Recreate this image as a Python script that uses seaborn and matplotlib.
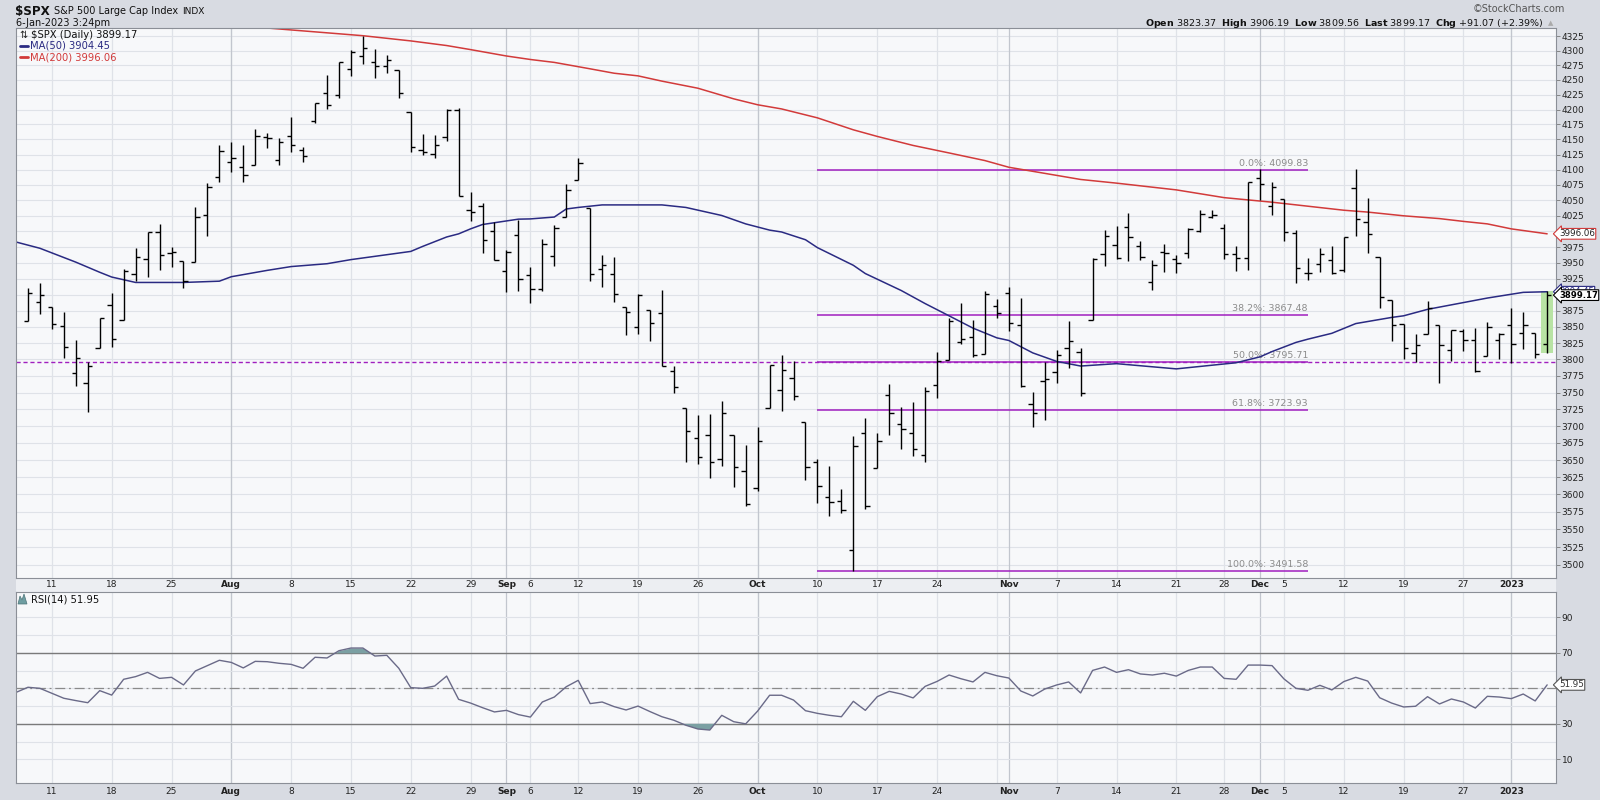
import numpy as np
import pandas as pd
import matplotlib
matplotlib.use("Agg")
import matplotlib.pyplot as plt
import matplotlib.transforms as mtransforms
from matplotlib.lines import Line2D
from matplotlib.patches import Polygon, Rectangle
from matplotlib.ticker import FixedLocator, FixedFormatter, NullLocator, NullFormatter
import seaborn as sns

sns.set_style("white")
plt.rcParams["font.family"] = ["DejaVu Sans"]

# trading sessions; the first one (6 Jul) only anchors the indicator lines at the left edge
holidays = ["2022-09-05", "2022-11-24", "2022-12-26", "2023-01-02"]
sessions = pd.bdate_range("2022-07-06", "2023-01-06", freq="C", holidays=holidays)

# daily OHLC, 7 Jul 2022 .. 6 Jan 2023
opens = [
    3858.85, 3888.26, 3880.94, 3851.95, 3779.67, 3763.99, 3818.00, 3883.79, 3860.73, 3933.06, 3955.47, 3998.43, 3965.72, 3953.22, 3951.43, 4026.13, 4087.33,
    4112.38, 4104.21, 4107.96, 4154.85, 4115.87, 4155.93, 4133.11, 4181.02, 4227.40, 4225.02, 4269.37, 4290.46, 4280.40, 4273.13, 4266.31, 4195.08, 4133.09, 4126.55, 4153.26, 4198.74, 4034.58, 4041.25, 4000.67,
    3936.73, 3994.66, 3930.89, 3909.43, 3959.94, 4022.94, 4083.67, 4037.12, 3940.73, 3932.41, 3880.95, 3849.91, 3875.23, 3871.40, 3782.36, 3727.14, 3682.72, 3686.44, 3651.94, 3687.01, 3633.48,
    3609.78, 3726.46, 3753.25, 3771.97, 3706.74, 3647.51, 3595.86, 3590.83, 3520.37, 3690.41, 3638.65, 3746.26, 3703.11, 3689.05, 3657.10, 3762.01, 3799.44, 3825.97, 3834.69, 3808.26, 3881.85,
    3901.79, 3852.90, 3733.25, 3766.98, 3780.71, 3817.02, 3810.94, 3859.89, 3963.72, 3977.97, 4006.41, 3976.82, 3919.26, 3966.39, 3956.23, 3965.51, 4000.30, 4023.34, 4005.36, 3964.19, 3957.18,
    4087.14, 4040.17, 4052.02, 3996.63, 3933.28, 3947.79, 3954.17, 3939.29, 4069.38, 4015.54, 3958.37, 3890.91, 3853.79, 3810.47, 3839.49, 3853.26, 3815.11, 3843.34, 3829.56, 3805.45, 3829.06,
    3853.29, 3840.36, 3839.74, 3823.37,
]
highs = [
    3910.63, 3918.50, 3880.94, 3873.41, 3829.44, 3796.41, 3863.62, 3902.44, 3939.81, 3974.13, 3999.29, 4012.44, 3975.30, 3953.22, 4039.56, 4078.95, 4140.15,
    4144.95, 4140.47, 4167.66, 4161.29, 4151.58, 4186.62, 4137.30, 4211.03, 4257.91, 4280.47, 4301.79, 4325.28, 4302.18, 4292.53, 4266.31, 4195.08, 4159.77, 4156.56, 4200.54, 4203.04, 4062.99, 4044.98, 4015.37,
    3970.23, 4018.43, 3942.55, 3987.89, 4010.50, 4076.81, 4119.28, 4037.12, 3961.94, 3959.14, 3880.95, 3900.45, 3876.01, 3907.07, 3790.78, 3727.14, 3715.67, 3717.53, 3736.74, 3687.01, 3671.44,
    3698.35, 3791.92, 3806.91, 3797.93, 3706.74, 3652.17, 3640.66, 3608.34, 3685.41, 3712.00, 3689.73, 3762.79, 3728.58, 3736.00, 3757.89, 3810.74, 3862.85, 3886.15, 3859.95, 3905.42, 3893.73,
    3911.79, 3894.44, 3750.59, 3796.34, 3813.95, 3859.40, 3818.20, 3958.33, 4001.48, 4008.97, 4028.84, 3983.96, 3954.33, 3979.89, 3962.00, 4005.88, 4033.78, 4034.02, 4012.27, 3976.77, 4080.11,
    4100.51, 4080.48, 4052.45, 4001.51, 3957.57, 3974.19, 3977.02, 3990.71, 4100.96, 4053.76, 3958.37, 3890.91, 3854.86, 3838.24, 3889.82, 3853.26, 3845.80, 3846.65, 3848.32, 3858.19, 3839.85,
    3878.46, 3873.16, 3839.74, 3906.19,
]
lows = [
    3858.85, 3869.34, 3847.22, 3802.36, 3759.07, 3721.56, 3817.18, 3818.63, 3860.73, 3922.03, 3927.64, 3938.24, 3943.46, 3910.74, 3951.43, 3992.97, 4079.22,
    4096.02, 4079.81, 4107.96, 4135.42, 4107.31, 4128.97, 4112.09, 4177.26, 4201.41, 4219.78, 4256.90, 4277.77, 4253.08, 4261.98, 4218.70, 4129.86, 4124.03, 4119.97, 4147.59, 4057.66, 4017.42, 3965.21, 3954.53,
    3903.65, 3906.21, 3886.75, 3906.03, 3944.81, 4022.94, 4083.67, 3921.49, 3912.15, 3888.28, 3837.08, 3838.50, 3827.54, 3789.49, 3749.45, 3647.47, 3644.76, 3623.29, 3640.61, 3610.40, 3584.13,
    3604.93, 3726.46, 3722.66, 3739.22, 3620.73, 3588.10, 3568.45, 3573.86, 3491.58, 3579.68, 3638.65, 3686.53, 3666.51, 3656.44, 3647.42, 3741.65, 3799.44, 3824.07, 3803.79, 3808.26, 3863.18,
    3843.80, 3758.68, 3698.15, 3708.84, 3764.70, 3786.28, 3744.22, 3859.89, 3944.82, 3956.40, 3953.17, 3954.34, 3906.54, 3935.98, 3933.34, 3956.88, 3998.66, 4020.76, 3955.77, 3937.65, 3938.58,
    4050.87, 4026.63, 3984.49, 3918.39, 3922.68, 3935.83, 3933.04, 3935.30, 3993.03, 3965.65, 3879.45, 3827.91, 3800.04, 3795.62, 3839.49, 3764.49, 3797.01, 3813.22, 3780.78, 3805.45, 3800.34,
    3794.33, 3815.77, 3802.42, 3809.56,
]
closes = [
    3902.62, 3899.38, 3854.43, 3818.80, 3801.78, 3790.38, 3863.16, 3830.85, 3936.69, 3959.90, 3998.95, 3961.63, 3966.84, 3921.05, 4023.61, 4072.43, 4130.29,
    4118.63, 4091.19, 4155.17, 4151.94, 4145.19, 4140.06, 4122.47, 4210.24, 4207.27, 4280.15, 4297.14, 4305.20, 4274.04, 4283.74, 4228.48, 4137.99, 4128.73, 4140.77, 4199.12, 4057.66, 4030.61, 3986.16, 3955.00,
    3966.85, 3924.26, 3908.19, 3979.87, 4006.18, 4067.36, 4110.41, 3932.69, 3946.01, 3901.35, 3873.33, 3899.89, 3855.93, 3789.93, 3757.99, 3693.23, 3655.04, 3647.29, 3719.04, 3640.47, 3585.62,
    3678.43, 3790.93, 3783.28, 3744.52, 3639.66, 3612.39, 3588.84, 3577.03, 3669.91, 3583.07, 3677.95, 3719.98, 3695.16, 3665.78, 3752.75, 3797.34, 3859.11, 3830.60, 3807.30, 3901.06, 3871.98,
    3856.10, 3759.69, 3719.89, 3770.55, 3806.80, 3828.11, 3748.57, 3956.37, 3992.93, 3957.25, 3991.73, 3958.79, 3946.56, 3965.34, 3949.94, 4003.58, 4027.26, 4026.12, 3963.94, 3957.63, 4080.11,
    4076.57, 4071.70, 3998.84, 3941.26, 3933.92, 3963.51, 3934.38, 3990.56, 4019.65, 3995.32, 3895.75, 3852.36, 3817.66, 3821.62, 3878.44, 3822.39, 3844.82, 3829.25, 3783.22, 3849.28, 3839.50,
    3824.14, 3852.97, 3808.10, 3899.17,
]

# RSI(14), 6 Jul 2022 .. 6 Jan 2023
rsi = [
    47.7,
    50.6, 50.0, 47.2, 44.4, 43.1, 41.9, 48.7, 46.2, 55.1, 56.6, 59.0, 55.6, 56.2, 51.9, 59.8, 62.8, 65.8,
    64.6, 61.5, 65.2, 65.0, 64.1, 63.5, 61.3, 67.5, 67.1, 71.2, 72.7, 72.7, 68.2, 68.6, 61.3, 50.4, 50.0, 51.3, 56.9, 43.8, 41.7, 39.1, 36.7,
    37.6, 35.2, 33.8, 42.3, 45.1, 50.9, 54.5, 41.4, 42.3, 39.7, 37.8, 40.0, 36.9, 34.0, 32.0, 29.2, 27.1, 26.5, 34.8, 31.2, 30.0,
    37.2, 46.1, 46.1, 43.4, 37.4, 35.9, 34.8, 34.0, 42.7, 37.6, 45.3, 48.3, 46.8, 44.6, 51.1, 53.9, 57.5, 55.4, 53.6, 59.0, 57.1,
    55.8, 48.5, 45.7, 49.6, 51.9, 53.6, 47.4, 60.1, 62.0, 59.0, 60.5, 58.1, 57.5, 58.5, 56.9, 60.1, 62.0, 62.0, 55.6, 55.1, 63.1,
    63.1, 62.8, 55.3, 50.0, 48.9, 51.7, 49.1, 53.8, 56.2, 54.1, 44.7, 41.7, 39.5, 39.9, 45.3, 41.2, 44.0, 42.3, 38.9, 45.5, 45.1,
    44.2, 46.8, 42.9, 51.95,
]

# moving averages
ma50_dates = ["2022-07-06", "2022-07-08", "2022-07-13", "2022-07-15", "2022-07-18", "2022-07-20", "2022-07-26", "2022-07-29",
              "2022-08-01", "2022-08-04", "2022-08-08", "2022-08-11", "2022-08-15", "2022-08-22", "2022-08-23", "2022-08-25",
              "2022-08-26", "2022-08-29", "2022-08-30", "2022-09-02", "2022-09-06", "2022-09-08", "2022-09-09", "2022-09-12",
              "2022-09-14", "2022-09-21", "2022-09-23", "2022-09-28", "2022-09-30", "2022-10-04", "2022-10-05", "2022-10-07",
              "2022-10-10", "2022-10-13", "2022-10-14", "2022-10-19", "2022-10-21", "2022-10-25", "2022-10-27", "2022-10-31",
              "2022-11-01", "2022-11-03", "2022-11-07", "2022-11-09", "2022-11-14", "2022-11-21", "2022-11-29", "2022-12-01",
              "2022-12-02", "2022-12-06", "2022-12-07", "2022-12-09", "2022-12-13", "2022-12-16", "2022-12-19", "2022-12-21",
              "2022-12-29", "2023-01-04", "2023-01-06"]
ma50_vals = [3983, 3973, 3951, 3935, 3927.5, 3919, 3919, 3921,
             3928, 3938, 3944, 3948.5, 3955, 3968, 3976, 3991,
             3996, 4004, 4011, 4019.6, 4020, 4023, 4036, 4038.5,
             4042.6, 4042.6, 4038.5, 4025.5, 4012, 4002, 3999, 3986.6,
             3974, 3946, 3933, 3906.4, 3886, 3867, 3848, 3833,
             3829, 3810, 3797, 3790, 3793.6, 3785.7, 3795, 3804,
             3812, 3826, 3831, 3840, 3855, 3864.5, 3867, 3877,
             3894.6, 3903.5, 3904.45]
ma200_dates = ["2022-08-03", "2022-08-08", "2022-08-11", "2022-08-16", "2022-08-22", "2022-08-25", "2022-08-29", "2022-09-01",
               "2022-09-06", "2022-09-08", "2022-09-13", "2022-09-15", "2022-09-19", "2022-09-21", "2022-09-26", "2022-09-29",
               "2022-10-03", "2022-10-05", "2022-10-10", "2022-10-13", "2022-10-17", "2022-10-20", "2022-10-25", "2022-10-28",
               "2022-11-01", "2022-11-04", "2022-11-09", "2022-11-14", "2022-11-21", "2022-11-28", "2022-12-02", "2022-12-07",
               "2022-12-12", "2022-12-14", "2022-12-19", "2022-12-22", "2022-12-27", "2022-12-29", "2023-01-03", "2023-01-06"]
ma200_vals = [4341, 4336, 4331, 4326, 4317, 4309, 4302, 4291,
              4285, 4280, 4269, 4261.5, 4257, 4248, 4236, 4218,
              4208, 4201, 4186, 4166, 4155, 4140, 4127.6, 4115,
              4104, 4094, 4084, 4078, 4067, 4054.4, 4047, 4040.5,
              4034, 4031, 4025, 4020.5, 4016, 4012, 4004, 3996.06]

# Fibonacci retracement
fib_pct = ["0.0", "38.2", "50.0", "61.8", "100.0"]
fib_vals = [4099.83, 3867.48, 3795.71, 3723.93, 3491.58]
fib_from, fib_to = "2022-10-10", "2022-12-07"
support = 3795.71

tick_dates = ["2022-07-11", "2022-07-18", "2022-07-25", "2022-08-01", "2022-08-08", "2022-08-15", "2022-08-22",
              "2022-08-29", "2022-09-01", "2022-09-06", "2022-09-12", "2022-09-19", "2022-09-26", "2022-10-03",
              "2022-10-10", "2022-10-17", "2022-10-24", "2022-11-01", "2022-11-07", "2022-11-14", "2022-11-21",
              "2022-11-28", "2022-12-01", "2022-12-05", "2022-12-12", "2022-12-19", "2022-12-27", "2023-01-03"]
tick_labels = ["11", "18", "25", "Aug", "8", "15", "22", "29", "Sep", "6", "12", "19", "26", "Oct",
               "10", "17", "24", "Nov", "7", "14", "21", "28", "Dec", "5", "12", "19", "27", "2023"]

price_ticks = list(range(3500, 4326, 25))
rsi_ticks = [10, 30, 50, 70, 90]

# ---------------------------------------------------------------------------
W, H = 1600, 800
def fx(px):
    return px / W
def fy(py):
    return 1 - py / H

pos_of = {d: i for i, d in enumerate(sessions)}
def P(dates):
    return np.array([pos_of[pd.Timestamp(d)] for d in dates])

bars = pd.DataFrame({"pos": np.arange(1, len(sessions)), "open": opens, "high": highs,
                     "low": lows, "close": closes})
rpos = np.arange(len(sessions))
rsi_arr = np.array(rsi)

s = pd.Series(sessions)
wk = s.dt.to_period("W")
week_start = (wk != wk.shift()).to_numpy()
month_start = (s.dt.month != s.dt.month.shift()).to_numpy()
week_start[0] = month_start[0] = False

BG = "#d8dbe2"
PANEL = "#f7f8fa"
GRID = "#dfe2e8"
MGRID = "#c2c6ce"
NAVY = "#2a2a82"
RED = "#d23a3a"
FIB = "#a01fbf"
XLIM = (0.41, 128.74)

fig = plt.figure(figsize=(16, 8), dpi=100, facecolor=BG)
# light strip that carries the dates between the two panels
fig.add_artist(Rectangle((fx(16), fy(592.3)), fx(1540), 14.6 / H, transform=fig.transFigure,
                         fc="#eceef2", ec="none", zorder=0))
ax = fig.add_axes([fx(16), fy(577.7), fx(1540), 549.2 / H], facecolor=PANEL)
axr = fig.add_axes([fx(16), fy(783.3), fx(1540), 191.0 / H], facecolor=PANEL)

# ---- price panel
ax.set_yscale("log")
for t in price_ticks:
    ax.axhline(t, color=GRID, lw=0.8, zorder=0)
for a in (ax, axr):
    for p in np.where(week_start)[0]:
        a.axvline(p, color=GRID, lw=0.9, zorder=0)
    for p in np.where(month_start)[0]:
        a.axvline(p, color=MGRID, lw=0.9, zorder=0)

last = bars.iloc[-1]
ax.fill_between([last["pos"] - 0.5, last["pos"] + 0.5], last["low"], last["high"],
                color="#b8e3a4", lw=0, zorder=1)

ax.axhline(support, color=FIB, lw=1.0, ls=(0, (3, 2)), zorder=1.5)
f0, f1 = P([fib_from, fib_to])
ax.hlines(fib_vals, f0, f1, color=FIB, lw=1.1, zorder=1.6)
lab_tr = mtransforms.offset_copy(ax.transData, fig=fig, y=2, units="dots")
for pct, v in zip(fib_pct, fib_vals):
    ax.text(f1, v, f"{pct}%: {v:.2f}", transform=lab_tr, ha="right", va="bottom",
            fontsize=6.8, color="#8c8c8c", zorder=2)

sns.lineplot(x=P(ma200_dates), y=ma200_vals, ax=ax, color=RED, lw=1.1, zorder=2)
sns.lineplot(x=P(ma50_dates), y=ma50_vals, ax=ax, color=NAVY, lw=1.1, zorder=2)

ax.vlines(bars["pos"], bars["low"], bars["high"], color="black", lw=1.0, zorder=3)
ax.hlines(bars["open"], bars["pos"] - 0.36, bars["pos"], color="black", lw=1.0, zorder=3)
ax.hlines(bars["close"], bars["pos"], bars["pos"] + 0.36, color="black", lw=1.0, zorder=3)

ax.set_xlim(*XLIM)
ax.set_ylim(3482, 4338.5)
ax.yaxis.set_major_locator(FixedLocator(price_ticks))
# 3900 and 4000 sit under the value tags, as on the original
ax.yaxis.set_major_formatter(FixedFormatter(["" if t in (3900, 4000) else str(t) for t in price_ticks]))
ax.yaxis.set_minor_locator(NullLocator())
ax.yaxis.set_minor_formatter(NullFormatter())

# ---- RSI panel
for t in range(10, 100, 10):
    axr.axhline(t, color=GRID, lw=0.8, zorder=0)
axr.axhline(70, color="#7a7a7a", lw=1.0, zorder=1)
axr.axhline(30, color="#7a7a7a", lw=1.0, zorder=1)
axr.axhline(50, color="#8a8a8a", lw=0.9, ls=(0, (8, 3, 1.5, 3)), zorder=1)
axr.fill_between(rpos, rsi_arr, 70, where=rsi_arr >= 70, interpolate=True, color="#7ba0a3", lw=0, zorder=1.5)
axr.fill_between(rpos, rsi_arr, 30, where=rsi_arr <= 30, interpolate=True, color="#7ba0a3", lw=0, zorder=1.5)
sns.lineplot(x=rpos, y=rsi_arr, ax=axr, color="#6a6a88", lw=1.0, zorder=2)
axr.set_xlim(*XLIM)
axr.set_ylim(-3.5, 104.1)
axr.yaxis.set_major_locator(FixedLocator(rsi_ticks))
axr.yaxis.set_major_formatter(FixedFormatter(["" if t == 50 else str(t) for t in rsi_ticks]))

# ---- shared axis styling
tick_pos = P(tick_dates)
for a, pad in ((ax, 2.0), (axr, 2.8)):
    a.set_xlabel("")
    a.set_ylabel("")
    a.yaxis.tick_right()
    a.tick_params(axis="y", which="major", length=3, width=0.6, color="#777777",
                  labelsize=6.5, labelcolor="#222222", pad=1)
    a.set_xticks(tick_pos)
    a.set_xticklabels(tick_labels)
    a.set_xticks(rpos, minor=True)
    a.tick_params(axis="x", which="major", length=0, pad=pad, labelsize=6.5, labelcolor="#222222")
    a.tick_params(axis="x", which="minor", length=2, width=0.5, color="#888888", direction="out")
    for lab in a.get_xticklabels():
        if not lab.get_text().isdigit() or lab.get_text() == "2023":
            lab.set_fontweight("bold")
    for sp in a.spines.values():
        sp.set_color("#8b8f97")
        sp.set_linewidth(0.8)

# ---- value tags on the right axis
def tag(a, v, text, ec, tc, bold=False, z=6, size=6.3):
    tr = mtransforms.blended_transform_factory(a.transAxes, a.transData)
    a.text(1.0, v, text, transform=mtransforms.offset_copy(tr, fig=fig, x=3, units="dots"),
           ha="left", va="center", fontsize=size, color=tc,
           fontweight="bold" if bold else "normal", clip_on=False, zorder=z,
           bbox=dict(boxstyle="larrow,pad=0.1", fc="white", ec=ec, lw=0.8))

tag(ax, ma200_vals[-1], f"{ma200_vals[-1]:.2f}", RED, "#222222")
tag(ax, ma50_vals[-1], f"{ma50_vals[-1]:.2f}", NAVY, NAVY, z=6, size=6.1)
tag(ax, closes[-1], f"{closes[-1]:.2f}", "black", "black", bold=True, z=7, size=6.1)
tag(axr, rsi[-1], f"{rsi[-1]:.2f}", "#555555", "#333333")

# ---- header and legends
fig.text(fx(15), fy(11), r"\$SPX", fontsize=8.6, fontweight="bold", va="center", color="#111111")
fig.text(fx(54), fy(11), "S&P 500 Large Cap Index", fontsize=7, va="center", color="#111111")
fig.text(fx(182), fy(11), "INDX", fontsize=6.5, va="center", color="#111111")
fig.text(fx(16), fy(23), "6-Jan-2023 3:24pm", fontsize=7, va="center", color="#111111")
fig.text(fx(1565), fy(9), "©StockCharts.com", fontsize=7, ha="right", va="center", color="#555555")
fig.text(fx(1544), fy(23),
         r"$\bf{Open}$ 3823.37  $\bf{High}$ 3906.19  $\bf{Low}$ 3809.56  $\bf{Last}$ 3899.17  $\bf{Chg}$ +91.07 (+2.39%)",
         fontsize=6.8, ha="right", va="center", color="#111111")
fig.text(fx(1548), fy(23), "▲", fontsize=5, ha="left", va="center", color="#aaaaaa")

fig.text(fx(19), fy(35), "⇅", fontsize=7, va="center", color="#222222")
fig.text(fx(31), fy(35), r"\$SPX (Daily) 3899.17", fontsize=7.2, va="center", color="#111111")
for yy, col, txt in ((46, NAVY, "MA(50) 3904.45"), (57, RED, "MA(200) 3996.06")):
    fig.add_artist(Line2D([fx(20), fx(28)], [fy(yy), fy(yy)], transform=fig.transFigure, color=col, lw=2))
    fig.text(fx(30), fy(yy), txt, fontsize=7.2, va="center", color=col)

fig.add_artist(Polygon([[fx(18), fy(604)], [fx(20), fy(596)], [fx(22), fy(600)], [fx(24), fy(594)],
                        [fx(27), fy(604)]], closed=True, transform=fig.transFigure,
                       fc="#6f9ea2", ec="#4d7579", lw=0.5))
fig.text(fx(31), fy(599), "RSI(14) 51.95", fontsize=7.2, va="center", color="#111111")

fig.savefig("out.png", dpi=100, facecolor=BG)
